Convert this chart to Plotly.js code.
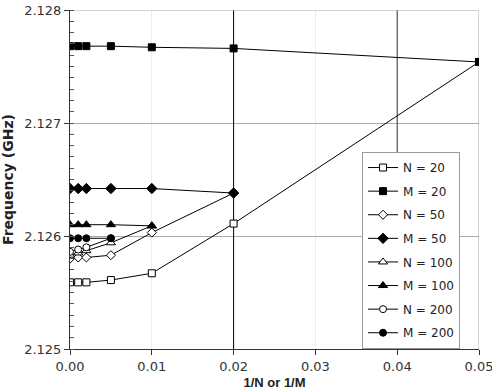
<!DOCTYPE html>
<html>
<head>
<meta charset="utf-8">
<script src="https://cdn.plot.ly/plotly-3.0.1.min.js"></script>
<style>html,body{margin:0;padding:0;background:#fff;}#chart{width:492px;height:390px;}</style>
</head>
<body>
<div id="chart"></div>
<script>
// x = 1/N or 1/M
var xFull = [0, 0.001, 0.002, 0.005, 0.01, 0.02, 0.05];
var x50 = [0, 0.001, 0.002, 0.005, 0.01, 0.02];
var x100 = [0, 0.001, 0.002, 0.005, 0.01];
var x200 = [0, 0.001, 0.002, 0.005];

var yN20 = [2.12559, 2.12559, 2.12559, 2.12561, 2.12567, 2.12611, 2.12754];
var yM20 = [2.12768, 2.12768, 2.12768, 2.12768, 2.12767, 2.12766, 2.12754];
var yN50 = [2.12580, 2.12581, 2.12581, 2.12583, 2.12603, 2.12638];
var yM50 = [2.12642, 2.12642, 2.12642, 2.12642, 2.12642, 2.12638];
var yN100 = [2.12583, 2.12585, 2.12587, 2.12594, 2.12609];
var yM100 = [2.12610, 2.12610, 2.12610, 2.12610, 2.12609];
var yN200 = [2.12586, 2.12588, 2.12590, 2.12598];
var yM200 = [2.12598, 2.12598, 2.12598, 2.12598];

var names = ['N = 20', 'M = 20', 'N = 50', 'M = 50', 'N = 100', 'M = 100', 'N = 200', 'M = 200'];
var xs = [xFull, xFull, x50, x50, x100, x100, x200, x200];
var ys = [yN20, yM20, yN50, yM50, yN100, yM100, yN200, yM200];
var symbols = ['square', 'square', 'diamond', 'diamond', 'triangle-up', 'triangle-up', 'circle', 'circle'];
var filled = [false, true, false, true, false, true, false, true];
var sizes = [7, 7, 7, 8, 8, 8, 7, 7];

var traces = names.map(function (n, i) {
  return {
    type: 'scatter', mode: 'lines+markers', name: n,
    x: xs[i], y: ys[i], legendgroup: 'g' + i,
    line: {color: '#000', width: 1},
    marker: {symbol: symbols[i], size: sizes[i], color: filled[i] ? '#000' : '#fff',
             line: {color: '#000', width: 1}}
  };
});

var layout = {
  width: 492, height: 390,
  margin: {l: 70, r: 13, t: 10, b: 41},
  paper_bgcolor: '#fff', plot_bgcolor: '#fff',
  font: {family: 'DejaVu Sans, sans-serif', color: '#333', size: 13},
  showlegend: true,
  legend: {x: 0.714, y: 0.581, xanchor: 'left', yanchor: 'top',
           bgcolor: '#fff', bordercolor: '#999', borderwidth: 1,
           font: {family: 'DejaVu Sans, sans-serif', size: 12, color: '#222'}, tracegroupgap: 4.6},
  xaxis: {range: [0, 0.05], dtick: 0.01, tickformat: '.2f',
          showgrid: true, gridcolor: '#eeeeee', gridwidth: 1,
          showline: true, linecolor: '#333', linewidth: 1,
          ticks: 'outside', ticklen: 5, tickcolor: '#333',
          ticklabeloverflow: 'allow',
          zeroline: false,
          title: {text: '<b>1/N or 1/M</b>', font: {family: 'Liberation Sans, Arial, sans-serif', size: 13, color: '#222'}, standoff: 8}},
  yaxis: {range: [2.125, 2.128], dtick: 0.001, tickformat: '.3f',
          showgrid: true, gridcolor: '#aaaaaa', gridwidth: 1,
          showline: true, linecolor: '#333', linewidth: 1,
          ticks: 'outside', ticklen: 5, tickcolor: '#333',
          minor: {dtick: 0.0001, ticks: 'inside', ticklen: 4, tickcolor: '#555', showgrid: false},
          zeroline: false,
          title: {text: '<b>Frequency (GHz)</b>', font: {family: 'DejaVu Sans, sans-serif', size: 14, color: '#222'}, standoff: 8}},
  shapes: [
    {type: 'line', xref: 'x', yref: 'y', x0: 0.02, x1: 0.02, y0: 2.125, y1: 2.128,
     line: {color: '#000', width: 1}, layer: 'between'},
    {type: 'line', xref: 'x', yref: 'y', x0: 0.04, x1: 0.04, y0: 2.125, y1: 2.128,
     line: {color: '#333', width: 1}, layer: 'between'},
    {type: 'line', xref: 'x', yref: 'y', x0: 0.05, x1: 0.05, y0: 2.125, y1: 2.128,
     line: {color: '#aaa', width: 1}, layer: 'between'},
    {type: 'line', xref: 'x', yref: 'y', x0: 0, x1: 0.05, y0: 2.128, y1: 2.128,
     line: {color: '#aaa', width: 1}, layer: 'between'}
  ]
};

Plotly.newPlot('chart', traces, layout, {displayModeBar: false, staticPlot: true});
</script>
</body>
</html>
